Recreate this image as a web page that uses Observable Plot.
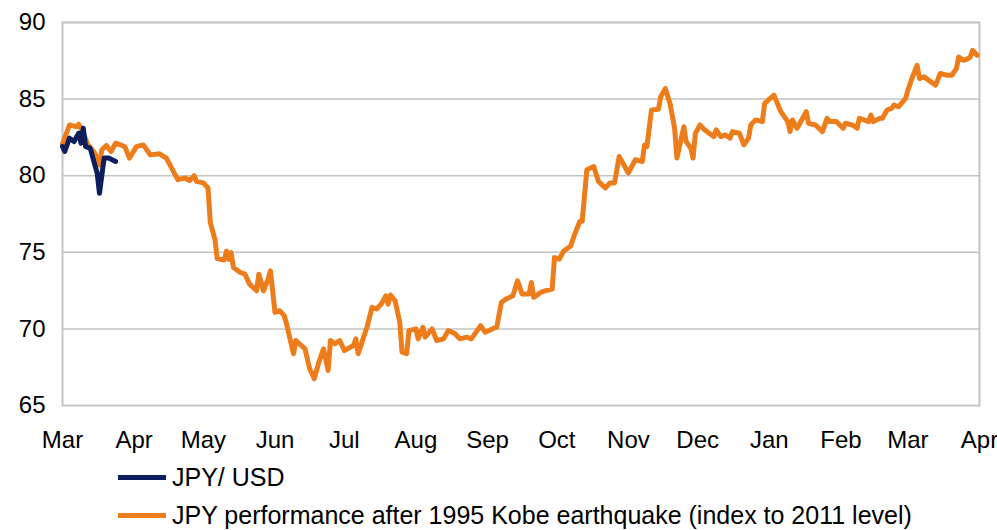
<!DOCTYPE html>
<html><head><meta charset="utf-8">
<script src="https://cdn.jsdelivr.net/npm/d3@7"></script>
<script src="https://cdn.jsdelivr.net/npm/@observablehq/plot@0.6"></script>
<style>
body{margin:0;background:#fff;font-family:"Liberation Sans",Arial,sans-serif;}
#chart{position:relative;width:997px;height:530px;overflow:hidden}
#chart svg{position:absolute;left:0;top:0}
.legend{position:absolute;left:118px;font-size:25px;line-height:25px;height:25px;color:#000;display:flex;align-items:center;white-space:nowrap}
.sw{width:48px;height:5px;margin-right:6px}
</style></head><body><div id="chart"></div>
<script>
// Days after 11 March 2011 and values
const startDate = "2011-03-11";
const endDate = "2012-04-11";
const tickDates = ["2011-03-11","2011-04-11","2011-05-11","2011-06-11","2011-07-11","2011-08-11","2011-09-11","2011-10-11","2011-11-11","2011-12-11","2012-01-11","2012-02-11","2012-03-11","2012-04-11"];
const tickLabels = ["Mar","Apr","May","Jun","Jul","Aug","Sep","Oct","Nov","Dec","Jan","Feb","Mar","Apr"];
const yTicks = [65,70,75,80,85,90];
const seriesNames = ["JPY/ USD","JPY performance after 1995 Kobe earthquake (index to 2011 level)"];

const usdDays = [0,1,3,5,7,8,9,10,12,14,15,16,18,20,23];
const usdValues = [81.90,81.58,82.45,82.23,82.77,82.12,83.10,81.90,81.80,80.71,80.18,78.85,81.15,81.15,80.93];

const kobeDays = [0,3,6,7,9,11,14,16,17,19,21,23,27,29,32,35,38,42,45,48,50,53,55,57,58,61,63,64,66,67,70,71,72,73,74,77,79,81,84,85,87,89,90,92,94,96,97,100,101,105,107,109,111,113,115,116,118,120,122,126,127,128,132,134,136,138,140,141,142,144,146,147,149,150,153,154,156,157,160,162,165,167,170,172,175,177,181,183,186,188,190,192,195,197,199,202,203,204,207,209,212,213,215,217,220,222,224,225,227,230,232,235,237,239,241,245,248,251,252,253,255,258,259,261,263,265,266,269,270,272,273,274,276,278,280,282,283,285,287,289,290,293,295,297,298,300,303,304,308,311,314,315,316,318,322,323,326,329,331,332,335,338,339,342,344,345,349,350,351,354,355,357,359,360,362,365,366,368,370,371,373,378,380,383,385,387,388,390,392,393,394,396];
const kobeValues = [82.06,83.31,83.20,83.36,82.77,82.01,81.47,80.71,81.69,81.97,81.58,82.12,81.90,81.15,81.90,82.01,81.36,81.43,81.15,80.28,79.74,79.85,79.68,80.00,79.63,79.53,79.20,76.93,75.84,74.59,74.50,75.08,74.54,74.98,74.01,73.68,73.57,72.92,72.49,73.57,72.49,73.25,73.79,71.08,71.19,70.86,70.32,68.38,69.24,68.70,67.40,66.75,67.84,68.70,67.29,69.24,69.03,69.24,68.59,68.92,69.35,68.38,70.21,71.41,71.30,71.62,72.16,71.62,72.21,71.84,70.44,68.49,68.38,69.89,70.00,69.35,70.11,69.46,70.00,69.24,69.35,69.89,69.68,69.35,69.46,69.35,70.21,69.78,70.00,70.11,71.73,71.95,72.16,73.14,72.27,72.27,73.03,72.06,72.38,72.49,72.60,74.66,74.55,75.08,75.41,76.28,77.03,77.03,80.39,80.60,79.63,79.20,79.53,79.53,81.25,80.18,81.04,80.93,82.01,81.90,84.29,84.33,85.15,85.69,84.72,83.10,81.15,83.20,82.23,81.80,81.15,82.77,83.31,82.99,82.77,82.55,82.99,82.55,82.66,82.45,82.88,82.77,82.01,82.45,83.31,83.64,83.53,84.72,85.26,84.18,83.53,82.88,83.64,83.10,84.18,83.42,83.31,82.88,83.75,83.53,83.53,83.10,83.42,83.31,83.10,83.75,83.53,83.96,83.53,83.75,83.75,84.29,84.40,84.61,84.50,85.05,85.58,86.45,87.21,86.34,86.45,85.91,86.67,86.56,86.56,86.99,87.75,87.53,87.64,87.75,88.18,87.86];

const colors = ["#0C1E5B","#ED7D1A"];

const start = new Date(startDate);
const toRows = (days, vals) => days.map((d, i) => ({date: d3.utcDay.offset(start, d), value: vals[i]}));
const usd = toRows(usdDays, usdValues);
const kobe = toRows(kobeDays, kobeValues);
const ticks = tickDates.map(s => new Date(s));

const chart = Plot.plot({
  width: 997,
  height: 460,
  marginLeft: 62,
  marginRight: 18,
  marginTop: 22,
  marginBottom: 55,
  style: {fontFamily: "Liberation Sans, Arial, sans-serif", fontSize: "24px", color: "#000", background: "#fff", overflow: "visible"},
  x: {type: "utc", domain: [start, new Date(endDate)]},
  y: {domain: [65, 90]},
  marks: [
    Plot.ruleY(yTicks.slice(1), {stroke: "#c4c4c4", strokeWidth: 1.5}),
    Plot.frame({stroke: "#c4c4c4", strokeWidth: 2}),
    Plot.line(kobe, {x: "date", y: "value", stroke: colors[1], strokeWidth: 5, strokeLinejoin: "round", strokeLinecap: "round"}),
    Plot.line(usd, {x: "date", y: "value", stroke: colors[0], strokeWidth: 5, strokeLinejoin: "round", strokeLinecap: "round"}),
    Plot.axisY({ticks: yTicks, tickSize: 0, tickPadding: 17, fontSize: 24, label: null}),
    Plot.axisX({ticks: ticks, tickSize: 0, tickPadding: 25, fontSize: 24, label: null,
      tickFormat: d => tickLabels[ticks.findIndex(t => +t === +d)]})
  ]
});
const el = document.getElementById("chart");
el.appendChild(chart);
seriesNames.forEach((name, i) => {
  const row = document.createElement("div");
  row.className = "legend";
  row.style.top = (465 + i * 38) + "px";
  row.innerHTML = `<span class="sw" style="background:${colors[i]}"></span><span></span>`;
  row.lastChild.textContent = name;
  el.appendChild(row);
});
</script></body></html>
